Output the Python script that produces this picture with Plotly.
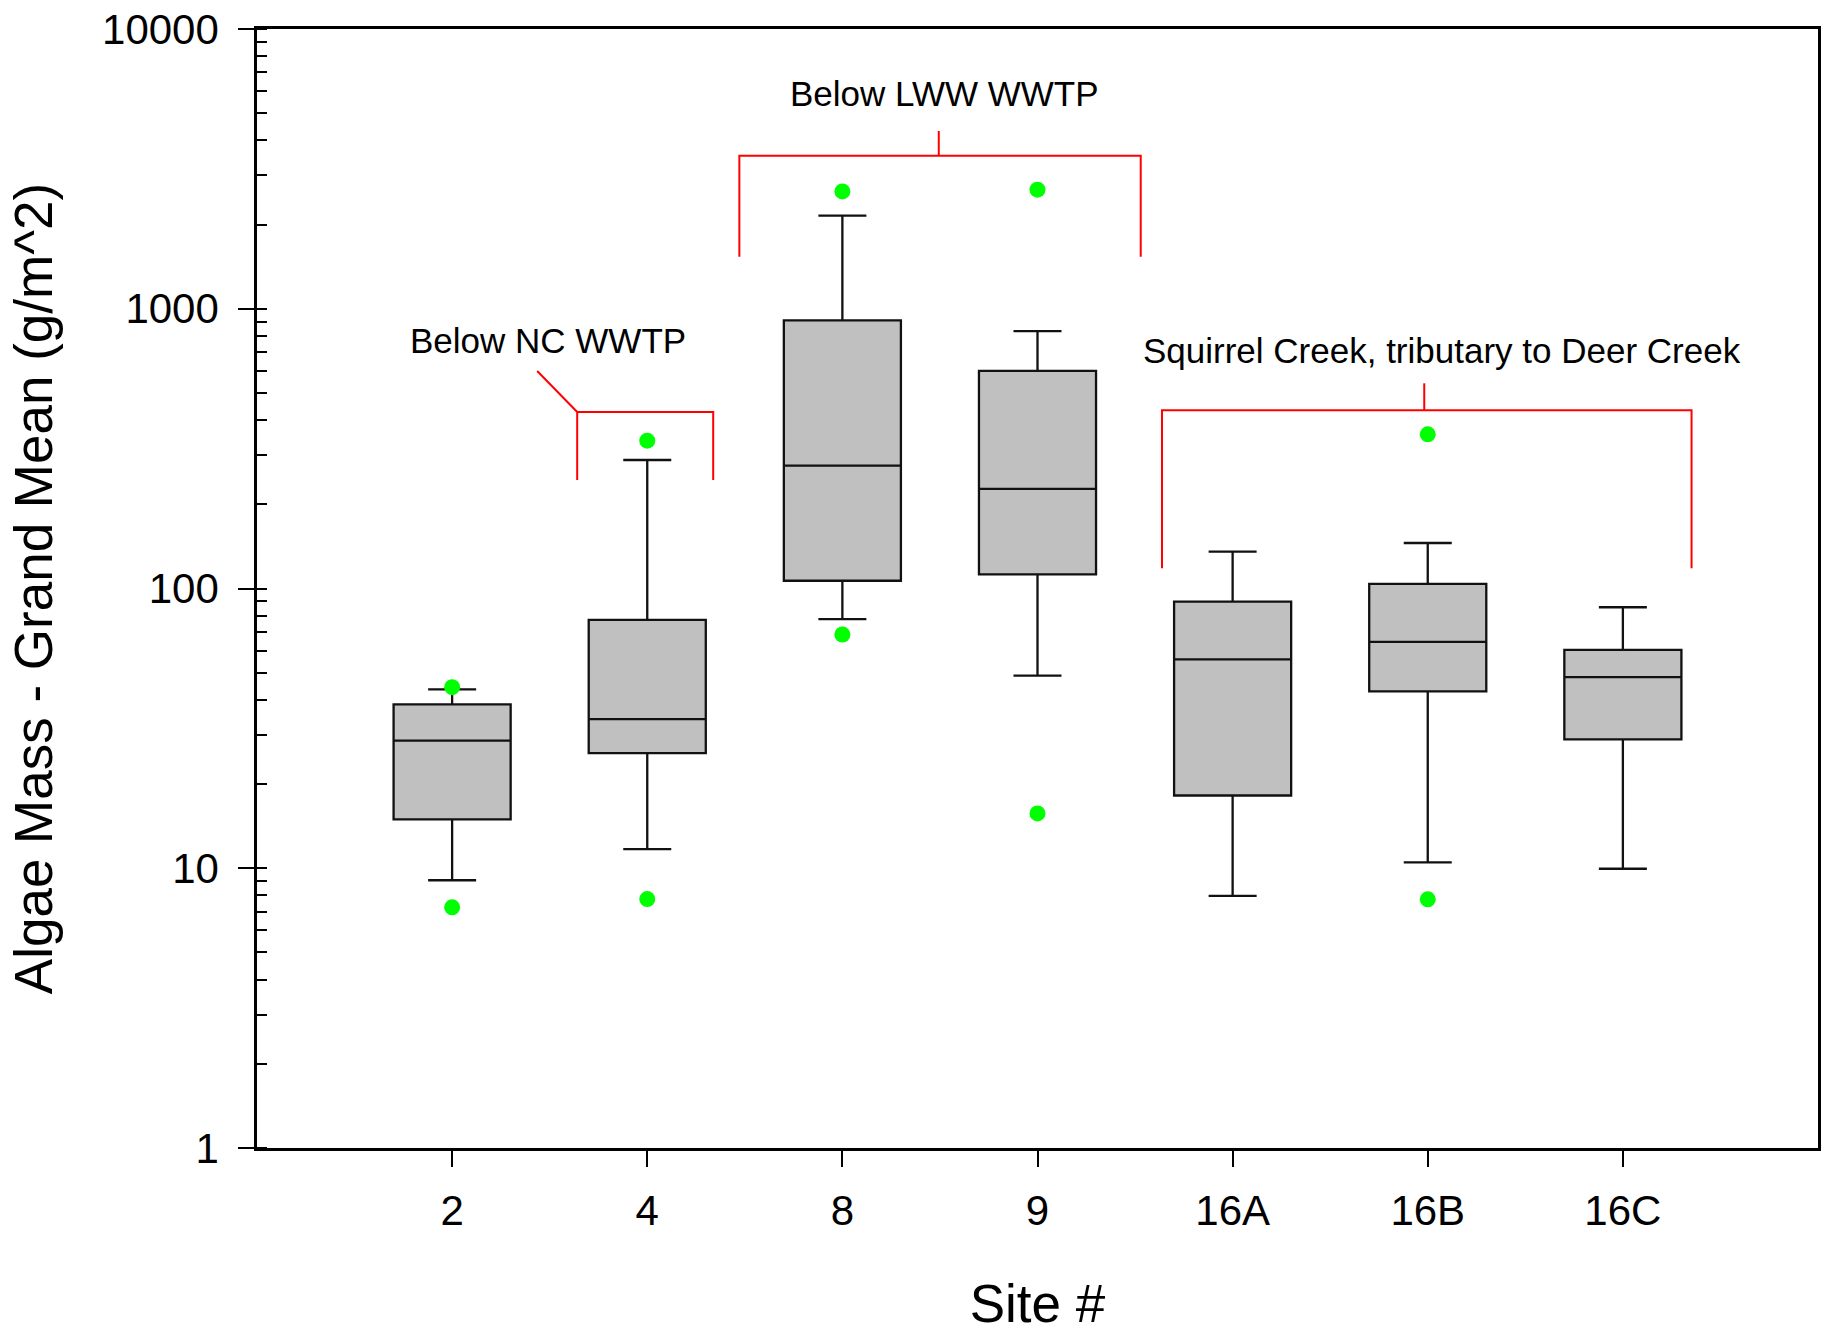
import math
import plotly.graph_objects as go

# ---------------- data ----------------
sites = ["2", "4", "8", "9", "16A", "16B", "16C"]
lower_whisker = [9.06, 11.7, 77.7, 48.8, 7.96, 10.5, 9.96]
q1 = [14.96, 25.8, 106.6, 112.4, 18.2, 42.9, 28.9]
median = [28.6, 34.1, 274.8, 227.2, 55.8, 64.4, 48.2]
q3 = [38.5, 77.2, 908.6, 599.7, 89.7, 103.8, 60.3]
upper_whisker = [43.6, 288.0, 2151.0, 832.0, 135.4, 145.4, 85.7]

outlier_sites = ["2", "2", "4", "4", "8", "8", "9", "9", "16B", "16B"]
outlier_values = [44.4, 7.25, 337.6, 7.76, 2627.0, 68.5, 2664.0, 15.7, 355.8, 7.74]

y_tick_values = [1, 10, 100, 1000, 10000]
y_tick_labels = ["1", "10", "100", "1000", "10000"]

# group brackets
bracket_labels = ["Below NC WWTP", "Below LWW WWTP", "Squirrel Creek, tributary to Deer Creek"]
bracket_left = [0.641, 1.472, 3.638]
bracket_right = [1.338, 3.529, 6.352]
bracket_top = [427.5, 3525.0, 433.5]
bracket_bottom = [244.2, 1535.0, 118.1]
label_x = [0.492, 2.521, 5.074]
label_y = [767.0, 5904.0, 709.0]
# leader lines from bracket toward label
leader_x0 = [0.641, 2.494, 4.982]
leader_y0 = [427.5, 3525.0, 433.5]
leader_x1 = [0.436, 2.494, 4.982]
leader_y1 = [599.0, 4319.0, 541.4]

FONT = "Liberation Sans, Arial, sans-serif"
RED = "#FF0000"

fig = go.Figure()

fig.add_trace(go.Box(
    x=sites,
    q1=q1, median=median, q3=q3,
    lowerfence=lower_whisker, upperfence=upper_whisker,
    boxpoints=False,
    fillcolor="#C0C0C0",
    line=dict(color="#111111", width=2.3),
    width=0.6,
    whiskerwidth=0.41,
    showlegend=False,
    hoverinfo="skip",
))

fig.add_trace(go.Scatter(
    x=outlier_sites, y=outlier_values,
    mode="markers",
    marker=dict(color="#00FF00", size=16, line=dict(width=0)),
    showlegend=False,
    hoverinfo="skip",
))

shapes = []
annotations = []
for i in range(len(bracket_labels)):
    shapes.append(dict(type="path", xref="x", yref="y",
                       path=(f"M {bracket_left[i]},{bracket_bottom[i]} "
                             f"L {bracket_left[i]},{bracket_top[i]} "
                             f"L {bracket_right[i]},{bracket_top[i]} "
                             f"L {bracket_right[i]},{bracket_bottom[i]}"),
                       line=dict(color=RED, width=2)))
    shapes.append(dict(type="line", xref="x", yref="y",
                       x0=leader_x0[i], y0=leader_y0[i],
                       x1=leader_x1[i], y1=leader_y1[i],
                       line=dict(color=RED, width=2)))
    annotations.append(dict(text=bracket_labels[i], x=label_x[i],
                            y=math.log10(label_y[i]), xref="x", yref="y",
                            showarrow=False, xanchor="center", yanchor="middle",
                            font=dict(family=FONT, size=35, color="black")))

fig.update_layout(
    width=1825, height=1333,
    margin=dict(l=257, r=7, t=29, b=185, autoexpand=False),
    paper_bgcolor="white", plot_bgcolor="white",
    font=dict(family=FONT, color="black"),
    shapes=shapes,
    annotations=annotations,
    showlegend=False,
)

fig.update_xaxes(
    type="category",
    categoryorder="array", categoryarray=sites,
    range=[-1, 7],
    showgrid=False, zeroline=False,
    showline=True, linecolor="black", linewidth=2.5, mirror=True,
    ticks="outside", ticklen=16, tickwidth=2, tickcolor="black",
    tickfont=dict(family=FONT, size=42, color="black"),
    ticklabelstandoff=8,
    title=dict(text="Site #", font=dict(family=FONT, size=53, color="black"), standoff=52),
)

fig.update_yaxes(
    type="log",
    range=[0, 4],
    showgrid=False, zeroline=False,
    showline=True, linecolor="black", linewidth=2.5, mirror=True,
    tickvals=y_tick_values, ticktext=y_tick_labels,
    ticks="outside", ticklen=16, tickwidth=2, tickcolor="black",
    tickfont=dict(family=FONT, size=42, color="black"),
    ticklabelstandoff=11,
    minor=dict(ticks="inside", ticklen=10, tickwidth=2, tickcolor="black", dtick="D1", showgrid=False),
    title=dict(text="Algae Mass - Grand Mean (g/m^2)", font=dict(family=FONT, size=53, color="black"), standoff=33),
)

fig.write_html("out.html")
